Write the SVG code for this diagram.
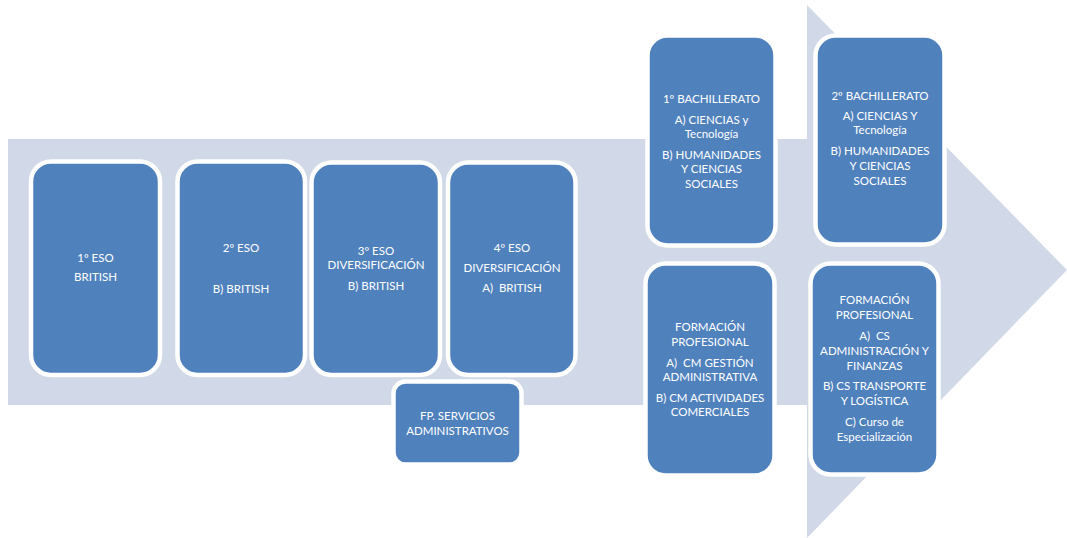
<svg xmlns="http://www.w3.org/2000/svg" width="1067" height="538" viewBox="0 0 1067 538">
<style>
.n{fill:#4F81BD;stroke:#FFFFFF;stroke-width:4.5}
.t{font-family:Lato,"Open Sans","Liberation Sans",sans-serif;font-size:11.5px;fill:#FFFFFF;text-anchor:middle;white-space:pre}
</style>
<rect width="1067" height="538" fill="#FFFFFF"/>
<g id="arrow">
<path d="M8,139 L807,139 L807,5 L1067,270 L807,538 L807,405 L8,405 Z" fill="#D1D8E7"/>
</g>
<g id="connectors"></g>
<g id="eso1">
<rect class="n" x="31" y="161.5" width="129" height="213.5" rx="20"/>
<text class="t" x="95.5" y="262">1º ESO</text>
<text class="t" x="95.5" y="281">BRITISH</text>
</g>
<g id="eso2">
<rect class="n" x="177.5" y="161.5" width="127.5" height="213.5" rx="20"/>
<text class="t" x="241" y="252">2º ESO</text>
<text class="t" x="241" y="293">B) BRITISH</text>
</g>
<g id="eso3">
<rect class="n" x="311.5" y="162.5" width="128.5" height="212.5" rx="20"/>
<text class="t" x="376" y="255">3º ESO</text>
<text class="t" x="376" y="269">DIVERSIFICACIÓN</text>
<text class="t" x="376" y="290">B) BRITISH</text>
</g>
<g id="eso4">
<rect class="n" x="448" y="162.5" width="127.5" height="212.5" rx="20"/>
<text class="t" x="512" y="252">4º ESO</text>
<text class="t" x="512" y="272">DIVERSIFICACIÓN</text>
<text class="t" x="512" y="292" xml:space="preserve">A)  BRITISH</text>
</g>
<g id="fp-servicios">
<rect class="n" x="393.5" y="381.5" width="128" height="83" rx="12"/>
<text class="t" x="457.5" y="420">FP. SERVICIOS</text>
<text class="t" x="457.5" y="435">ADMINISTRATIVOS</text>
</g>
<g id="bach1">
<rect class="n" x="647.5" y="35.5" width="128" height="210" rx="20"/>
<text class="t" x="711.5" y="103">1º BACHILLERATO</text>
<text class="t" x="711.5" y="124">A) CIENCIAS y</text>
<text class="t" x="711.5" y="138">Tecnología</text>
<text class="t" x="711.5" y="159">B) HUMANIDADES</text>
<text class="t" x="711.5" y="173">Y CIENCIAS</text>
<text class="t" x="711.5" y="188">SOCIALES</text>
</g>
<g id="fp-medio">
<rect class="n" x="645.5" y="263.5" width="129" height="212" rx="20"/>
<text class="t" x="710" y="331">FORMACIÓN</text>
<text class="t" x="710" y="346">PROFESIONAL</text>
<text class="t" x="710" y="367" xml:space="preserve">A)  CM GESTIÓN</text>
<text class="t" x="710" y="381">ADMINISTRATIVA</text>
<text class="t" x="710" y="402">B) CM ACTIVIDADES</text>
<text class="t" x="710" y="416">COMERCIALES</text>
</g>
<g id="bach2">
<rect class="n" x="815.5" y="35.5" width="129" height="209" rx="20"/>
<text class="t" x="880" y="100">2º BACHILLERATO</text>
<text class="t" x="880" y="120">A) CIENCIAS Y</text>
<text class="t" x="880" y="134">Tecnología</text>
<text class="t" x="880" y="155">B) HUMANIDADES</text>
<text class="t" x="880" y="170">Y CIENCIAS</text>
<text class="t" x="880" y="185">SOCIALES</text>
</g>
<g id="fp-superior">
<rect class="n" x="810.5" y="263.5" width="128" height="211" rx="20"/>
<text class="t" x="874.5" y="304">FORMACIÓN</text>
<text class="t" x="874.5" y="319">PROFESIONAL</text>
<text class="t" x="874.5" y="340" xml:space="preserve">A)  CS</text>
<text class="t" x="874.5" y="355">ADMINISTRACIÓN Y</text>
<text class="t" x="874.5" y="370">FINANZAS</text>
<text class="t" x="874.5" y="390">B) CS TRANSPORTE</text>
<text class="t" x="874.5" y="405">Y LOGÍSTICA</text>
<text class="t" x="874.5" y="426">C) Curso de</text>
<text class="t" x="874.5" y="441">Especialización</text>
</g>
</svg>
